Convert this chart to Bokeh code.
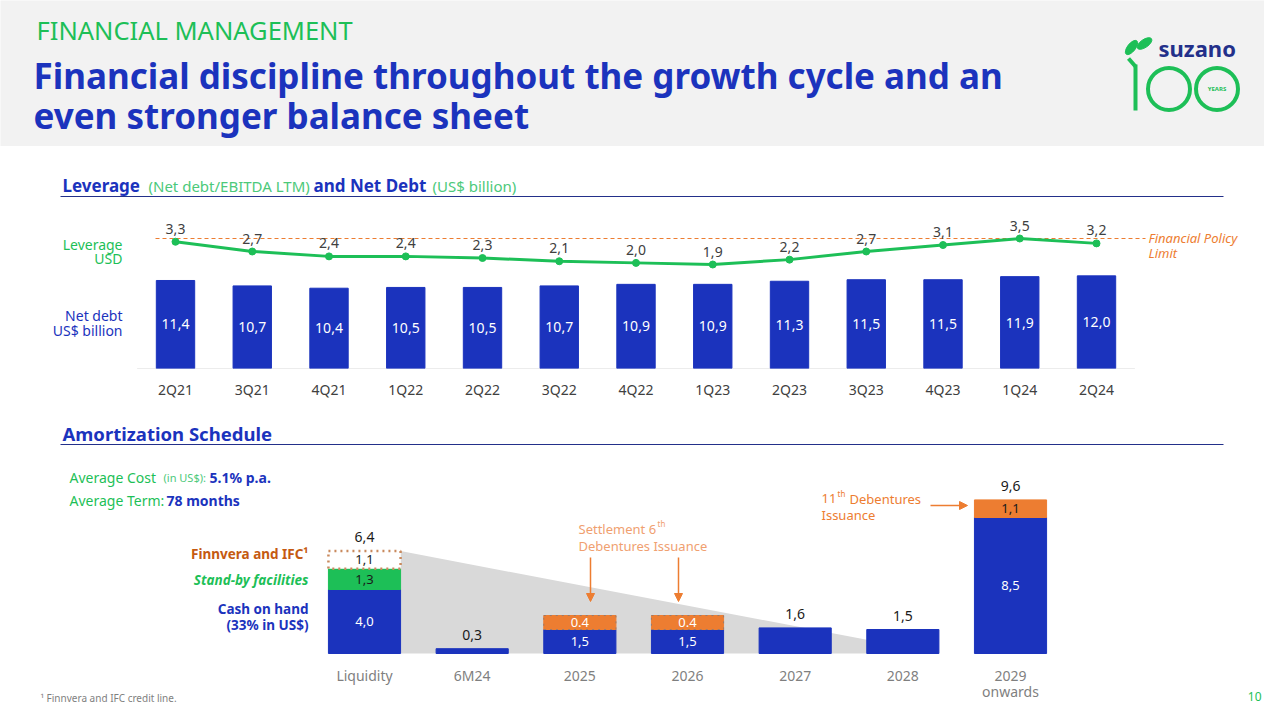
import numpy as np
from bokeh.plotting import figure
from bokeh.models import Range1d, FixedTicker, Arrow, NormalHead
from bokeh.layouts import column
from bokeh.embed import file_html
from bokeh.resources import INLINE
from bokeh.core.properties import value

# ---------------- data ----------------
quarters = ["2Q21", "3Q21", "4Q21", "1Q22", "2Q22", "3Q22", "4Q22",
            "1Q23", "2Q23", "3Q23", "4Q23", "1Q24", "2Q24"]
net_debt = [11.4, 10.7, 10.4, 10.5, 10.5, 10.7, 10.9, 10.9, 11.3, 11.5, 11.5, 11.9, 12.0]
leverage = [3.3, 2.7, 2.4, 2.4, 2.3, 2.1, 2.0, 1.9, 2.2, 2.7, 3.1, 3.5, 3.2]
policy_limit = 3.5

amort_cats = ["Liquidity", "6M24", "2025", "2026", "2027", "2028", "2029\nonwards"]
cash_debt = [4.0, 0.3, 1.5, 1.5, 1.6, 1.5, 8.5]
standby = [1.3, 0.0, 0.0, 0.0, 0.0, 0.0, 0.0]
finnvera = [1.1, 0.0, 0.0, 0.0, 0.0, 0.0, 0.0]
debentures = [0.0, 0.0, 0.4, 0.4, 0.0, 0.0, 1.1]
debenture_labels = ["", "", "0.4", "0.4", "", "", "1,1"]
settlement_years = ["2025", "2026"]

# ---------------- styles ----------------
FONT = "Noto Sans"
BLUE = "#1B33BD"
NAVY = "#23308A"
GREEN = "#1DBF57"
LGREEN = "#4CC97A"
ORANGE = "#ED7D31"
LORANGE = "#F0A070"
BROWN = "#C55A11"
DGRAY = "#404040"
MGRAY = "#7F7F7F"
BG = "#F2F2F2"
W = 1264


def fmt(v):
    return f"{v:.1f}".replace(".", ",")


def canvas(w, h, bg="white"):
    p = figure(width=w, height=h, x_range=Range1d(0, w), y_range=Range1d(h, 0),
               output_backend="svg", toolbar_location=None, min_border=0,
               x_axis_location=None, y_axis_location=None)
    p.grid.visible = False
    p.outline_line_color = None
    p.background_fill_color = bg
    p.border_fill_color = bg
    return p


def txt(p, x, y, s, size=14, color=DGRAY, style="normal", align="left",
        baseline="middle", **kw):
    p.text(x=[x], y=[y], text=[s], text_font=value(FONT), text_font_size=f"{size}px",
           text_color=color, text_font_style=style, text_align=align,
           text_baseline=baseline, **kw)


# ---------------- header ----------------
header = canvas(W, 146, BG)
txt(header, 36, 29, "FINANCIAL MANAGEMENT", 25.5, GREEN)
txt(header, 33, 75, "Financial discipline throughout the growth cycle and an", 35, BLUE, "bold")
txt(header, 33, 115, "even stronger balance sheet", 35, BLUE, "bold")
# logo
header.ellipse(x=[1131, 1144], y=[47, 43], width=[17, 17], height=[8, 8],
               angle=[0.9, 0.6], color=GREEN)
header.segment(x0=[1128], y0=[58], x1=[1135], y1=[66], line_color=GREEN, line_width=4)
header.segment(x0=[1135], y0=[64], x1=[1135], y1=[110], line_color=GREEN, line_width=4)
header.circle(x=[1168.5, 1216.5], y=[88.5, 88.5], radius=21, fill_color=None,
              line_color=GREEN, line_width=4)
txt(header, 1158, 47, "suzano", 22, NAVY, "bold")
txt(header, 1216.5, 88.5, "YEARS", 6, GREEN, "bold", "center")

# ---------------- section 1 title ----------------
sec1 = canvas(W, 54)
txt(sec1, 62, 39, "Leverage", 17, BLUE, "bold")
txt(sec1, 148, 39, "(Net debt/EBITDA LTM)", 15, LGREEN)
txt(sec1, 313, 39, "and Net Debt", 17, BLUE, "bold")
txt(sec1, 432, 39, "(US$ billion)", 15, LGREEN)
sec1.segment(x0=[60], y0=[50], x1=[1223], y1=[50], line_color=NAVY, line_width=1)

# ---------------- top chart (full width) ----------------
n = len(quarters)
idx = np.arange(n)
T_C0, T_STEP = 175.0, 76.75         # pixel centre of first category, pixels per category
T_BASE, T_PPU = 368.0, 7.72         # baseline pixel row, pixels per US$ bn
T_TOP = 200.0                       # pixel row of the frame top
T_LEV_PX, T_LEV_PPU = 238.0, 16.25  # pixel row of leverage 3.5, pixels per x

top = figure(width=W, height=210,
             x_range=Range1d(-T_C0 / T_STEP, (W - T_C0) / T_STEP),
             y_range=Range1d(0, (T_BASE - T_TOP) / T_PPU), output_backend="svg",
             toolbar_location=None, min_border_left=0, min_border_right=0,
             min_border_top=0, min_border_bottom=42, y_axis_location=None)
lev_lo = 3.5 - (T_BASE - T_LEV_PX) / T_LEV_PPU
lev_hi = 3.5 + (T_LEV_PX - T_TOP) / T_LEV_PPU
top.extra_y_ranges = {"lev": Range1d(lev_lo, lev_hi)}
top.grid.visible = False
top.outline_line_color = None


def TX(px):
    return (px - T_C0) / T_STEP


def TY(py):
    return (T_BASE - py) / T_PPU


top.segment(x0=[-0.5], y0=[0], x1=[n - 0.5], y1=[0], line_color="#D9D9D9", line_width=1)
top.vbar(x=idx, top=net_debt, width=0.5, color=BLUE)
top.text(x=idx, y=np.array(net_debt) / 2, text=[fmt(v) for v in net_debt],
         text_font=value(FONT), text_font_size="14px", text_color="white",
         text_align="center", text_baseline="middle")
top.segment(x0=[TX(155)], y0=[policy_limit], x1=[TX(1145)], y1=[policy_limit],
            y_range_name="lev", line_color=ORANGE, line_width=1, line_dash="4 3")
top.line(idx, leverage, y_range_name="lev", line_color=GREEN, line_width=3)
top.scatter(idx, leverage, y_range_name="lev", size=7, color=GREEN)
top.text(x=idx, y=leverage, text=[fmt(v) for v in leverage], y_range_name="lev",
         y_offset=-13, text_font=value(FONT), text_font_size="14px",
         text_color=DGRAY, text_align="center", text_baseline="middle")
ax = top.xaxis[0]
ax.ticker = FixedTicker(ticks=list(range(n)))
ax.major_label_overrides = {i: q for i, q in enumerate(quarters)}
ax.axis_line_color = None
ax.major_tick_line_color = None
ax.minor_tick_line_color = None
ax.major_tick_out = 0
ax.major_tick_in = 0
ax.major_label_standoff = 11
ax.major_label_text_font = FONT
ax.major_label_text_font_size = "14px"
ax.major_label_text_color = DGRAY

txt(top, TX(122), TY(244), "Leverage", 14, GREEN, align="right")
txt(top, TX(122), TY(258), "USD", 14, GREEN, align="right")
txt(top, TX(122), TY(315), "Net debt", 14, BLUE, align="right")
txt(top, TX(122), TY(330), "US$ billion", 14, BLUE, align="right")
txt(top, TX(1148), TY(237), "Financial Policy", 13, ORANGE, "italic")
txt(top, TX(1148), TY(252), "Limit", 13, ORANGE, "italic")

# ---------------- section 2 title ----------------
sec2 = canvas(W, 42)
txt(sec2, 62, 23, "Amortization Schedule", 18.5, BLUE, "bold")
sec2.segment(x0=[60], y0=[34], x1=[1223], y1=[34], line_color=NAVY, line_width=1)

# ---------------- bottom chart (full width, full height) ----------------
m = len(amort_cats)
bx = np.arange(m)
B_C0, B_STEP = 364.0, 107.67
B_BASE, B_PPU = 653.0, 16.0
B_TOP, B_BOT = 452.0, 704.0
BW = 0.67
SETTLE_MIN_PX = 14.0
cash = np.array(cash_debt)
sb = np.array(standby)
fv = np.array(finnvera)
deb = np.array(debentures)
totals = cash + sb + fv + deb


def X(px):
    return (px - B_C0) / B_STEP


def Y(py):
    return (B_BASE - py) / B_PPU


bot = figure(width=W, height=252,
             x_range=Range1d(X(0), X(W)), y_range=Range1d(Y(B_BOT), Y(B_TOP)),
             output_backend="svg", toolbar_location=None, min_border=0,
             x_axis_location=None, y_axis_location=None)
bot.grid.visible = False
bot.outline_line_color = None

end_i = amort_cats.index("2028")
bot.patch(x=[BW / 2, end_i + BW / 2, BW / 2], y=[totals[0], 0, 0],
          color="#D9D9D9", line_color=None)

bot.vbar(x=bx, bottom=0, top=cash, width=BW, color=BLUE)
s = sb > 0
bot.vbar(x=bx[s], bottom=cash[s], top=(cash + sb)[s], width=BW, color=GREEN)
f = fv > 0
bot.vbar(x=bx[f], bottom=(cash + sb)[f], top=(cash + sb + fv)[f], width=BW,
         fill_color="white", line_color="#C98A5E", line_width=2.5, line_dash="dotted")
sel = np.array([c in settlement_years for c in amort_cats])
d = deb > 0
# settlement boxes are drawn with a minimum visible height, as on the slide
deb_h = np.where(sel, np.maximum(deb, SETTLE_MIN_PX / B_PPU), deb)
bot.vbar(x=bx[d], bottom=cash[d], top=(cash + deb_h)[d], width=BW, color=ORANGE)
bot.vbar(x=bx[sel], bottom=cash[sel], top=(cash + deb_h)[sel], width=BW,
         fill_color=None, line_color="#9A7A6A", line_width=1, line_dash="dotted")

stacked = totals > cash
bot.text(x=bx[stacked], y=cash[stacked] / 2, text=[fmt(v) for v in cash[stacked]],
         text_font=value(FONT), text_font_size="13px", text_color="white",
         text_align="center", text_baseline="middle")
bot.text(x=bx[s], y=(cash + sb / 2)[s], text=[fmt(v) for v in sb[s]],
         text_font=value(FONT), text_font_size="13px", text_color="#1A1A1A",
         text_align="center", text_baseline="middle")
bot.text(x=bx[f], y=(cash + sb + fv / 2)[f], text=[fmt(v) for v in fv[f]],
         text_font=value(FONT), text_font_size="13px", text_color="#1A1A1A",
         text_align="center", text_baseline="middle")
deb_col = ["white" if c in settlement_years else "#1A1A1A" for c in amort_cats]
bot.text(x=bx[d], y=(cash + deb_h / 2)[d],
         text=[debenture_labels[i] for i in bx[d]],
         text_font=value(FONT), text_font_size="13px",
         text_color=[deb_col[i] for i in bx[d]],
         text_align="center", text_baseline="middle")
tot_show = ~sel
bot.text(x=bx[tot_show], y=totals[tot_show], text=[fmt(v) for v in totals[tot_show]],
         y_offset=-14, text_font=value(FONT), text_font_size="14px",
         text_color="#1A1A1A", text_align="center", text_baseline="middle")

# category labels along the x scale (one glyph per label line)
line1 = [c.split("\n")[0] for c in amort_cats]
line2 = [c.split("\n")[1] if "\n" in c else "" for c in amort_cats]
bot.text(x=bx, y=[Y(675)] * m, text=line1, text_font=value(FONT),
         text_font_size="14px", text_color=MGRAY, text_align="center",
         text_baseline="middle")
bot.text(x=bx, y=[Y(691)] * m, text=line2, text_font=value(FONT),
         text_font_size="14px", text_color=MGRAY, text_align="center",
         text_baseline="middle")

# annotations
txt(bot, X(578), Y(528), "Settlement 6", 13, LORANGE)
txt(bot, X(657), Y(523), "th", 8, LORANGE)
txt(bot, X(578), Y(545), "Debentures Issuance", 13, LORANGE)
for ax_px in (590, 678):
    bot.add_layout(Arrow(end=NormalHead(size=8, fill_color=ORANGE, line_color=ORANGE),
                         x_start=X(ax_px), y_start=Y(557), x_end=X(ax_px), y_end=Y(601),
                         line_color=ORANGE, line_width=1.5))
txt(bot, X(821), Y(498), "11", 13, ORANGE)
txt(bot, X(837), Y(493), "th", 8, ORANGE)
txt(bot, X(849), Y(498), "Debentures", 13, ORANGE)
txt(bot, X(821), Y(514), "Issuance", 13, ORANGE)
bot.add_layout(Arrow(end=NormalHead(size=8, fill_color=ORANGE, line_color=ORANGE),
                     x_start=X(930), y_start=Y(505), x_end=X(967), y_end=Y(505),
                     line_color=ORANGE, line_width=1.5))

# left-side texts
txt(bot, X(69), Y(477), "Average Cost", 14, GREEN)
txt(bot, X(163), Y(477), "(in US$):", 11, LGREEN)
txt(bot, X(209), Y(477), "5.1% p.a.", 14, BLUE, "bold")
txt(bot, X(69), Y(500), "Average Term:", 14, GREEN)
txt(bot, X(166), Y(500), "78 months", 14, BLUE, "bold")
txt(bot, X(308), Y(553), "Finnvera and IFC\u00b9", 13.5, BROWN, "bold", "right")
txt(bot, X(308), Y(579), "Stand-by facilities", 13.5, GREEN, "bold italic", "right")
txt(bot, X(308), Y(608), "Cash on hand", 13.5, BLUE, "bold", "right")
txt(bot, X(308), Y(624), "(33% in US$)", 13.5, BLUE, "bold", "right")

# footnote and page number
txt(bot, X(40), Y(697), "\u00b9 Finnvera and IFC credit line.", 10, MGRAY)
txt(bot, X(1261), Y(696), "10", 12, GREEN, align="right")

layout = column(header, sec1, top, sec2, bot)

open("out.html", "w").write(file_html(layout, INLINE))
